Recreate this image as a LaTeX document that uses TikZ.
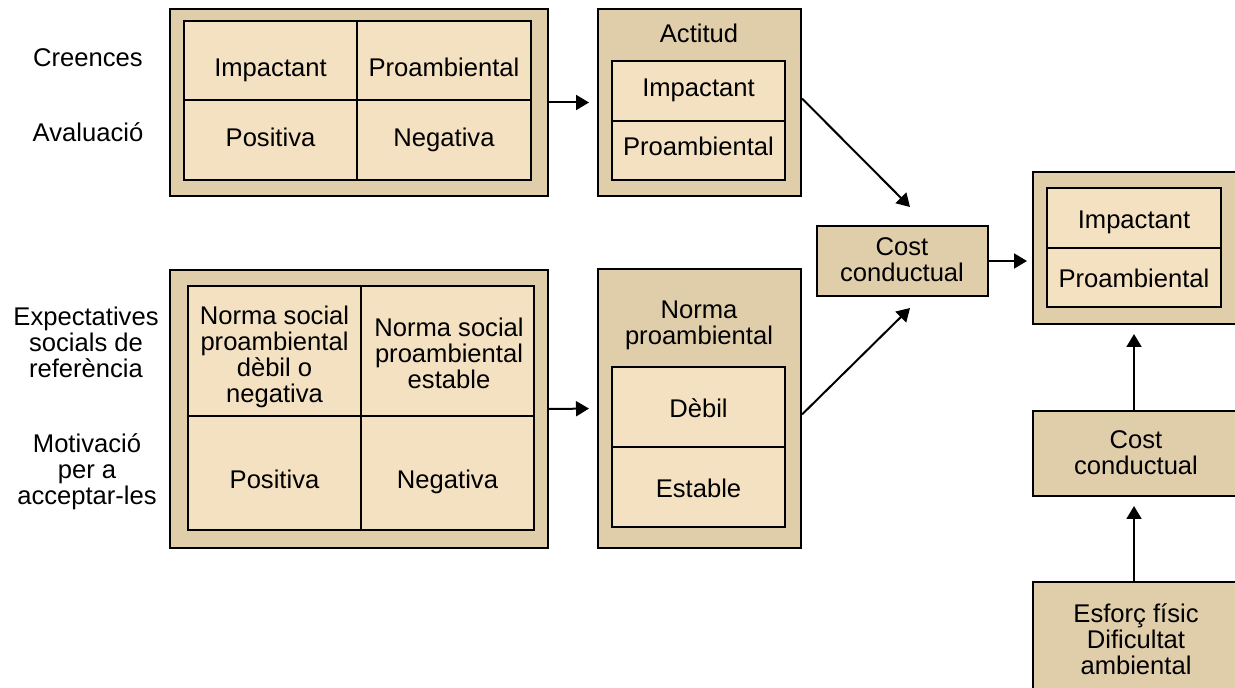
\documentclass[tikz,border=0pt]{standalone}
\usepackage{fontspec}
\setmainfont{Liberation Sans}
\usetikzlibrary{arrows.meta}
\definecolor{outerc}{HTML}{E0CEAB}
\definecolor{innerc}{HTML}{F4E1C1}
\begin{document}
\begin{tikzpicture}[x=0.5pt,y=-0.5pt,
  every node/.style={font=\fontsize{12.8}{13}\selectfont},
  outerbox/.style={draw, line width=1pt, fill=outerc, inner sep=0pt},
  cell/.style={draw, line width=1pt, fill=innerc, inner sep=0pt},
  txt/.style={anchor=base, align=center, inner sep=0pt},
  arr/.style={line width=1pt, -{Triangle[length=6.5pt,width=7.5pt]}}]
\useasboundingbox (0,0) rectangle (1235,688);
\clip (0,0) rectangle (1235,688);

% ---- left labels (base = last line's baseline)
\node[txt] (lcre) at (88,67) {Creences};
\node[txt] (laval) at (88,142) {Avaluació};
\node[txt] (lexp) at (86,378) {Expectatives\\socials de\\referència};
\node[txt] (lmot) at (87,505) {Motivació\\per a\\acceptar-les};

% ---- top-left grid
\node[outerbox, minimum width=189pt, minimum height=93.5pt] (bel) at (359,102.5) {};
\node[cell, minimum width=86.5pt, minimum height=39.5pt] (b11) at (270.5,60.5) {};
\node[cell, minimum width=87pt, minimum height=39.5pt] (b12) at (444,60.5) {};
\node[cell, minimum width=86.5pt, minimum height=40pt] (b21) at (270.5,140) {};
\node[cell, minimum width=87pt, minimum height=40pt] (b22) at (444,140) {};
\node[txt] (tb11) at (270.5,77) {Impactant};
\node[txt] (tb12) at (444,77) {Proambiental};
\node[txt] (tb21) at (270.5,147) {Positiva};
\node[txt] (tb22) at (444,147) {Negativa};

% ---- Actitud
\node[outerbox, minimum width=101.5pt, minimum height=93.5pt] (act) at (699.5,102.5) {};
\node[txt] (tact) at (699,43) {Actitud};
\node[cell, minimum width=86.5pt, minimum height=30pt] (a1) at (698.5,91) {};
\node[cell, minimum width=86.5pt, minimum height=29.5pt] (a2) at (698.5,150.5) {};
\node[txt] (ta1) at (698.5,97) {Impactant};
\node[txt] (ta2) at (698.5,156) {Proambiental};

% ---- bottom-left grid
\node[outerbox, minimum width=189pt, minimum height=139pt] (soc) at (359,409) {};
\node[cell, minimum width=86.5pt, minimum height=65pt] (s11) at (274.5,351) {};
\node[cell, minimum width=86.5pt, minimum height=65pt] (s12) at (447.5,351) {};
\node[cell, minimum width=86.5pt, minimum height=57pt] (s21) at (274.5,473) {};
\node[cell, minimum width=86.5pt, minimum height=57pt] (s22) at (447.5,473) {};
\node[txt] (ts11) at (274.5,403) {Norma social\\proambiental\\dèbil o\\negativa};
\node[txt] (ts12) at (449,389) {Norma social\\proambiental\\estable};
\node[txt] (ts21) at (274.5,489) {Positiva};
\node[txt] (ts22) at (447.5,489) {Negativa};

% ---- Norma proambiental
\node[outerbox, minimum width=101.5pt, minimum height=139.5pt] (norm) at (699.5,408.5) {};
\node[txt] (tnorm) at (699,345) {Norma\\proambiental};
\node[cell, minimum width=86.5pt, minimum height=40pt] (n1) at (698.5,407) {};
\node[cell, minimum width=86.5pt, minimum height=40pt] (n2) at (698.5,487) {};
\node[txt] (tn1) at (698.5,418) {Dèbil};
\node[txt] (tn2) at (698.5,498) {Estable};

% ---- middle cost
\node[outerbox, minimum width=85.5pt, minimum height=35pt] (cost) at (902.5,261) {};
\node[txt] (tcost) at (902,282) {Cost\\conductual};

% ---- result
\node[outerbox, minimum width=106pt, minimum height=76pt] (res) at (1139,248) {};
\node[cell, minimum width=87pt, minimum height=30pt] (r1) at (1134,218) {};
\node[cell, minimum width=87pt, minimum height=29.5pt] (r2) at (1134,277.5) {};
\node[txt] (tr1) at (1134,229) {Impactant};
\node[txt] (tr2) at (1134,288) {Proambiental};

% ---- right cost and bottom
\node[outerbox, minimum width=106pt, minimum height=42.5pt] (cr) at (1139,453.5) {};
\node[txt] (tcr) at (1136,475) {Cost\\conductual};
\node[outerbox, minimum width=106pt, minimum height=59pt] (bot) at (1139,641) {};
\node[txt] (tbot) at (1136,674) {Esforç físic\\Dificultat\\ambiental};

% ---- connectors
\coordinate (c1) at (910,207);
\coordinate (c2) at (910,308);
\draw[arr, shorten >=4pt] (bel.east) -- (act.west);
\draw[arr, shorten >=4pt] (soc.east) -- (norm.west);
\draw[arr] ([yshift=2pt]act.east) -- (c1);
\draw[arr] ([yshift=-3pt]norm.east) -- (c2);
\draw[arr, shorten >=2.5pt] (cost.east) -- (cost.east -| res.west);
\draw[arr, shorten >=4.5pt] (cr.north -| r2.south) -- (res.south -| r2.south);
\draw[arr, shorten >=4.5pt] (bot.north -| r2.south) -- (cr.south -| r2.south);
\end{tikzpicture}
\end{document}
